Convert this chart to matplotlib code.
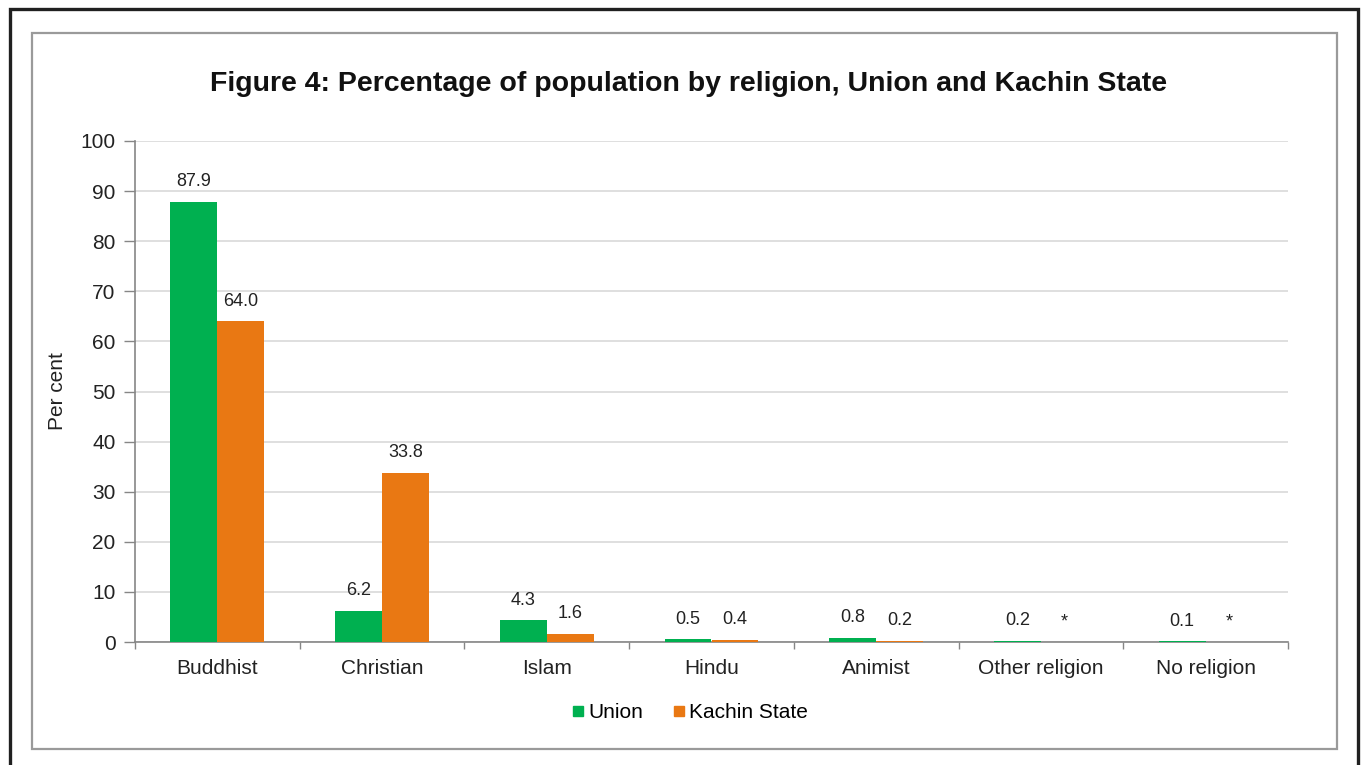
import numpy as np
import matplotlib
matplotlib.use('Agg')
import matplotlib.pyplot as plt
from matplotlib.patches import Rectangle
from matplotlib.lines import Line2D

plt.rcParams['font.family'] = ['Liberation Sans', 'DejaVu Sans']

# data
categories = ['Buddhist', 'Christian', 'Islam', 'Hindu', 'Animist', 'Other religion', 'No religion']
union = [87.9, 6.2, 4.3, 0.5, 0.8, 0.2, 0.1]
kachin = [64.0, 33.8, 1.6, 0.4, 0.2, np.nan, np.nan]
union_labels = ['87.9', '6.2', '4.3', '0.5', '0.8', '0.2', '0.1']
kachin_labels = ['64.0', '33.8', '1.6', '0.4', '0.2', '*', '*']
yticks = [0, 10, 20, 30, 40, 50, 60, 70, 80, 90, 100]

green = '#00B050'
orange = '#E97813'
W, H = 1362, 765

fig = plt.figure(figsize=(W / 100, H / 100), dpi=100)
ax = fig.add_axes([135 / W, 1 - 642 / H, 1153 / W, 501 / H])

# frames
fig.patches.append(Rectangle((9.5 / W, -0.05), 1348 / W, 1.05 - 9.5 / H, transform=fig.transFigure,
                             fill=False, edgecolor='#202020', linewidth=2.4))
fig.patches.append(Rectangle((32 / W, 1 - 749 / H), 1305 / W, 716 / H, transform=fig.transFigure,
                             fill=False, edgecolor='#9A9A9A', linewidth=1.6))

x = np.arange(len(categories))
bw = 0.285
u_vals = np.array(union)
k_vals = np.nan_to_num(np.array(kachin))
ax.bar(x - bw / 2, u_vals, bw, color=green, zorder=3, label='Union')
ax.bar(x + bw / 2, k_vals, bw, color=orange, zorder=3, label='Kachin State')

for i in range(len(categories)):
    ax.annotate(union_labels[i], (x[i] - bw / 2, u_vals[i]), xytext=(0, 14.5), textcoords='offset points',
                ha='center', va='center', fontsize=13, color='#222222')
    ax.annotate(kachin_labels[i], (x[i] + bw / 2, k_vals[i]), xytext=(0, 14.5), textcoords='offset points',
                ha='center', va='center', fontsize=13, color='#222222')

ax.set_xlim(-0.5, len(categories) - 0.5)
ax.set_ylim(0, 100)
ax.set_yticks(yticks)
ax.set_yticklabels([str(t) for t in yticks], fontsize=15, color='#222222')
ax.set_xticks(x)
ax.set_xticklabels(categories, fontsize=15, color='#222222')
ax.set_xticks(np.arange(len(categories) + 1) - 0.5, minor=True)
ax.tick_params(axis='x', which='major', length=0, pad=12)
ax.tick_params(axis='x', which='minor', length=5, color='#868686', width=1)
ax.tick_params(axis='y', length=8, color='#868686', width=1, pad=6)

ax.grid(axis='y', color='#D9D9D9', linewidth=1.2, zorder=0)
for s in ['top', 'right']:
    ax.spines[s].set_visible(False)
for s in ['left', 'bottom']:
    ax.spines[s].set_color('#868686')
    ax.spines[s].set_linewidth(1.2)

ax.set_ylabel('Per cent', fontsize=15, color='#222222', labelpad=10)

fig.text(689 / W, 1 - 84 / H, 'Figure 4: Percentage of population by religion, Union and Kachin State',
         ha='center', va='center', fontsize=20.5, fontweight='bold', color='#111111')

handles = [Line2D([], [], marker='s', linestyle='none', color=green, markersize=7),
           Line2D([], [], marker='s', linestyle='none', color=orange, markersize=7)]
fig.legend(handles, ['Union', 'Kachin State'], loc='center', bbox_to_anchor=(690 / W, 1 - 713 / H),
           ncol=2, frameon=False, fontsize=15, handlelength=0.6, handletextpad=0.2, columnspacing=1.4)

fig.savefig('out.png', dpi=100)
